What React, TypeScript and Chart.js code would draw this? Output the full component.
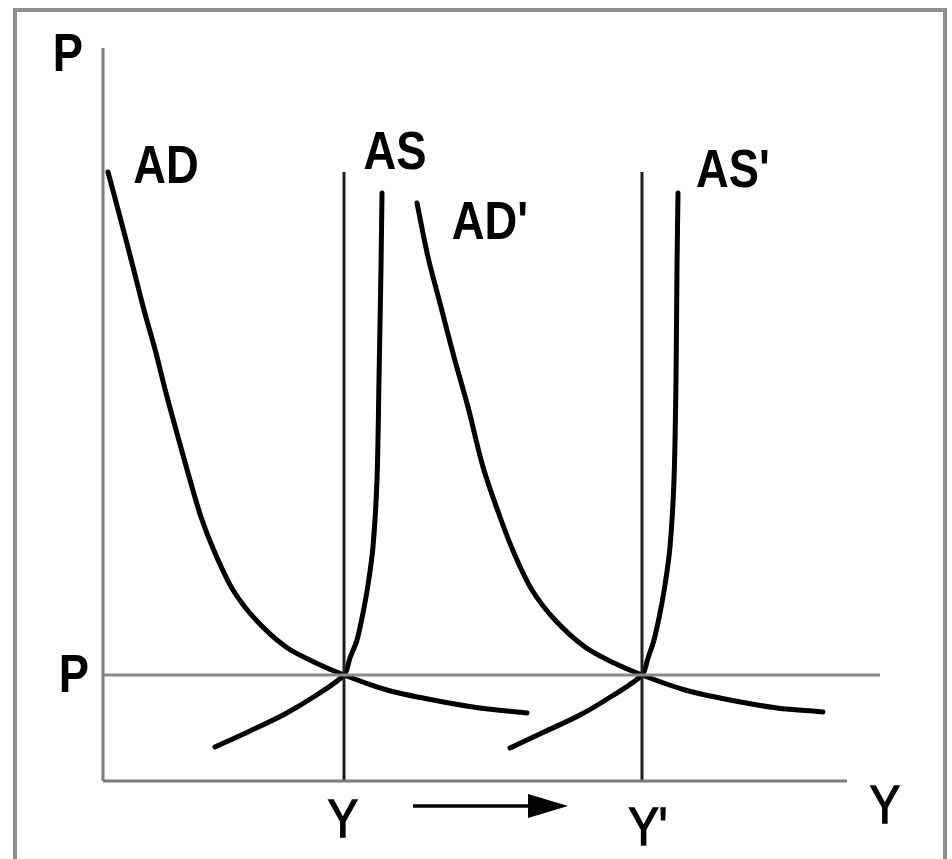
import React, { useEffect, useRef } from "react";
import { Chart, registerables } from "chart.js";

Chart.register(...registerables);

// Data units: output (Y) on x, price level (P) on y.
const X_MAX = 77.7;
const Y_MAX = 73.3;
const AXIS_X_END = 74.4;
const Y0 = 24.1; // initial output Y
const Y1 = 53.9; // new output Y'
const P0 = 10.6; // price level P
const VLINE_TOP = 60.9;

const AD_Y = [0.5, 1.7, 3.0, 4.1, 5.3, 6.3, 7.5, 8.5, 9.8, 11.2, 13.0, 15.3, 18.3, 21.3, 24.1, 28.4, 33.0, 37.7, 42.4];
const AD_P = [60.9, 56.4, 51.4, 47.1, 42.8, 38.8, 34.4, 30.8, 26.4, 22.8, 19.1, 16.1, 13.4, 11.8, 10.6, 9.1, 8.1, 7.3, 6.8];

const AS_Y = [11.2, 14.7, 18.2, 21.2, 24.1, 24.7, 25.4, 26.0, 26.5, 27.0, 27.4, 27.6, 27.8, 27.9];
const AS_P = [3.4, 5.0, 6.7, 8.5, 10.6, 12.3, 14.1, 16.8, 19.6, 23.4, 30.1, 40.1, 51.4, 58.8];

const AD2_Y = [31.4, 32.5, 33.8, 35.1, 36.5, 38.0, 39.7, 41.1, 42.9, 45.2, 48.2, 51.1, 53.9, 58.2, 62.7, 67.4, 72.0];
const AD2_P = [57.8, 52.4, 47.4, 42.4, 37.4, 31.4, 26.4, 22.8, 19.1, 16.1, 13.4, 11.8, 10.6, 9.1, 8.1, 7.3, 6.9];

const AS2_Y = [40.7, 44.1, 47.7, 50.9, 53.9, 54.5, 55.1, 55.7, 56.2, 56.7, 57.1, 57.3, 57.4, 57.5];
const AS2_P = [3.3, 4.9, 6.6, 8.5, 10.6, 12.3, 14.1, 16.8, 19.6, 23.4, 30.1, 40.1, 51.4, 58.8];

// Shift arrow below the x axis
const ARROW_Y = -2.5;
const ARROW_START = 31.0;
const ARROW_HEAD_BASE = 42.5;
const ARROW_TIP = 46.5;
const ARROW_HALF = 1.2;

// Text labels (text, x, y in data units, bold)
const LABEL_TEXT = ["P", "AD", "AS", "AD'", "AS'", "P", "Y", "Y'", "Y"];
const LABEL_X = [-3.5, 6.3, 29.2, 38.7, 63.0, -2.9, 24.0, 54.5, 78.2];
const LABEL_Y = [72.9, 61.7, 63.1, 56.1, 61.3, 10.8, -3.7, -4.5, -2.3];
const LABEL_BOLD = [true, true, true, true, true, true, false, false, false];

const zip = (xs: number[], ys: number[]) => xs.map((x, i) => ({ x, y: ys[i] }));

const labelPlugin = {
  id: "diagramLabels",
  afterDatasetsDraw(chart: any) {
    const { ctx, scales } = chart;
    const sx = scales.x;
    const sy = scales.y;
    // arrow head
    ctx.save();
    ctx.fillStyle = "#000";
    ctx.beginPath();
    ctx.moveTo(sx.getPixelForValue(ARROW_HEAD_BASE), sy.getPixelForValue(ARROW_Y + ARROW_HALF));
    ctx.lineTo(sx.getPixelForValue(ARROW_TIP), sy.getPixelForValue(ARROW_Y));
    ctx.lineTo(sx.getPixelForValue(ARROW_HEAD_BASE), sy.getPixelForValue(ARROW_Y - ARROW_HALF));
    ctx.closePath();
    ctx.fill();
    ctx.restore();

    const size = 54;
    ctx.save();
    ctx.fillStyle = "#000";
    ctx.strokeStyle = "#000";
    ctx.textAlign = "center";
    ctx.textBaseline = "alphabetic";
    LABEL_TEXT.forEach((t, i) => {
      const px = sx.getPixelForValue(LABEL_X[i]);
      const py = sy.getPixelForValue(LABEL_Y[i]);
      ctx.save();
      ctx.translate(px, py + (size * 0.716) / 2);
      ctx.scale(0.84, 1);
      ctx.font = `${LABEL_BOLD[i] ? "bold " : ""}${size}px "Liberation Sans", Arial, sans-serif`;
      ctx.fillText(t, 0, 0);
      if (!LABEL_BOLD[i]) {
        ctx.lineWidth = 1.6;
        ctx.strokeText(t, 0, 0);
      }
      ctx.restore();
    });
    ctx.restore();
  },
};

export default function App() {
  const ref = useRef<HTMLCanvasElement | null>(null);

  useEffect(() => {
    if (!ref.current) return;
    const curve = (data: any[]) => ({
      data,
      borderColor: "#000",
      borderWidth: 5,
      pointRadius: 0,
      tension: 0.3,
      borderCapStyle: "round",
      borderJoinStyle: "round",
      clip: false as any,
      fill: false,
    });
    const straight = (data: any[], color: string, width: number) => ({
      data,
      borderColor: color,
      borderWidth: width,
      pointRadius: 0,
      tension: 0,
      clip: false as any,
      fill: false,
    });
    const chart = new Chart(ref.current, {
      type: "scatter",
      data: {
        datasets: [
          straight([{ x: 0, y: 0 }, { x: 0, y: Y_MAX }], "#7d7d7d", 3) as any,
          straight([{ x: 0, y: 0 }, { x: AXIS_X_END, y: 0 }], "#7d7d7d", 3),
          straight([{ x: 0, y: P0 }, { x: X_MAX, y: P0 }], "#8a8a8a", 3),
          straight([{ x: Y0, y: 0 }, { x: Y0, y: VLINE_TOP }], "#1e1e1e", 3),
          straight([{ x: Y1, y: 0 }, { x: Y1, y: VLINE_TOP }], "#1e1e1e", 3),
          curve(zip(AD_Y, AD_P)),
          curve(zip(AS_Y, AS_P)),
          curve(zip(AD2_Y, AD2_P)),
          curve(zip(AS2_Y, AS2_P)),
          straight([{ x: ARROW_START, y: ARROW_Y }, { x: ARROW_HEAD_BASE + 0.5, y: ARROW_Y }], "#000", 3.5),
        ].map((d: any) => ({ ...d, showLine: true })),
      },
      options: {
        animation: false,
        responsive: false,
        maintainAspectRatio: false,
        layout: { padding: { left: 103, right: 72, top: 48, bottom: 78 } },
        plugins: { legend: { display: false }, tooltip: { enabled: false } },
        scales: {
          x: { type: "linear", min: 0, max: X_MAX, display: false },
          y: { type: "linear", min: 0, max: Y_MAX, display: false },
        },
      },
      plugins: [labelPlugin],
    });
    return () => chart.destroy();
  }, []);

  return (
    <div style={{ position: "fixed", left: 0, top: 0, width: 952, height: 859, background: "#fff", overflow: "hidden" }}>
      <div
        style={{
          position: "absolute",
          left: 13,
          top: 8,
          width: 934,
          height: 900,
          border: "4px solid #8f8f8f",
          boxSizing: "border-box",
        }}
      />
      <canvas ref={ref} width={952} height={859} style={{ position: "absolute", left: 0, top: 0 }} />
    </div>
  );
}
